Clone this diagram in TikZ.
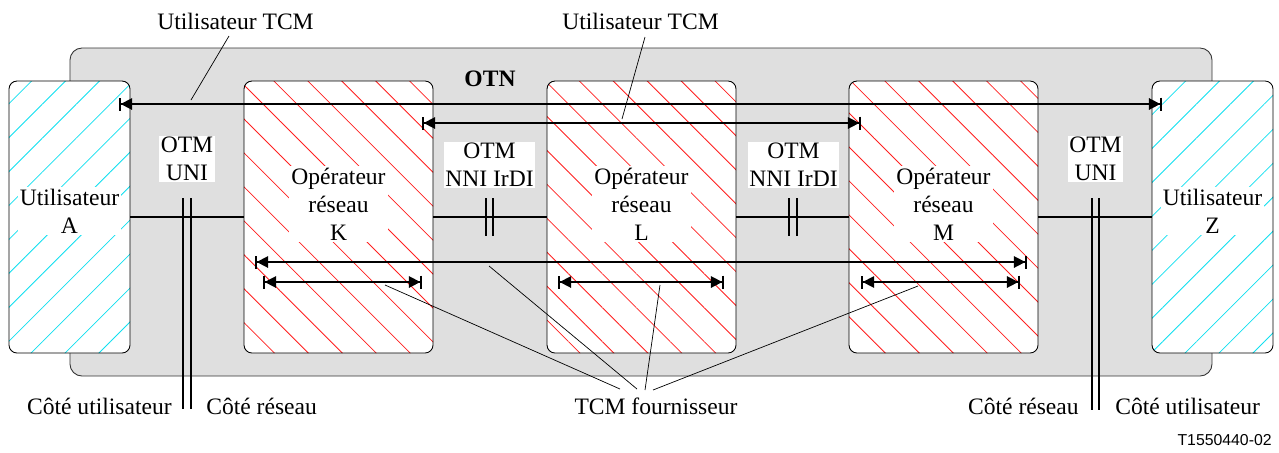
\documentclass[tikz,border=0pt]{standalone}
\usepackage{fontspec}
\setmainfont{Liberation Serif}
\newfontfamily\tagfont{Liberation Sans}
\usepackage{tikz}
\usetikzlibrary{arrows.meta,patterns.meta}
\definecolor{otngray}{HTML}{DFDFDF}
\definecolor{hatchred}{HTML}{FF2020}
\definecolor{hatchcyan}{HTML}{10E0F0}

\begin{document}
\begin{tikzpicture}[
  x=0.2mm, y=-0.2mm,
  font=\fontsize{13.4}{15.9}\selectfont,
  otnbox/.style={draw=black!80, fill=otngray, rounded corners=2.4mm, line width=0.5pt, minimum width=228.4mm, minimum height=65.6mm},
  userbox/.style={draw, line width=0.5pt, rounded corners=1.6mm, minimum width=24.2mm, minimum height=54.4mm, preaction={fill=white}, pattern={Lines[angle=45,distance=4.8mm,line width=0.45pt]}, pattern color=hatchcyan},
  opbox/.style={draw, line width=0.5pt, rounded corners=1.6mm, minimum width=37.8mm, minimum height=54.4mm, preaction={fill=white}, pattern={Lines[angle=-45,distance=4.8mm,line width=0.45pt]}, pattern color=hatchred},
  boxtext/.style={fill=white, inner sep=0.4mm, align=center},
  iftext/.style={fill=white, inner sep=0.3mm, align=center},
  link/.style={line width=0.75pt},
  dbar/.style={line width=1.1pt},
  span/.style={{Bar[width=2.6mm]Triangle[length=2.3mm,width=2.3mm]}-{Triangle[length=2.3mm,width=2.3mm]Bar[width=2.6mm]}, line width=0.95pt},
  ptr/.style={line width=0.4pt}
]
  \useasboundingbox (0,0) rectangle (1279,452);

  % OTN area
  \node[otnbox] (otn) at (641,212) {};
  \node[font=\fontsize{13.4}{15.9}\selectfont\bfseries, anchor=base] (otnLbl) at (490,86) {OTN};

  % users and operators
  \node[userbox] (usrA) at (69.5,217) {};
  \node[opbox] (opK) at (338.5,217) {};
  \node[opbox] (opL) at (641.5,217) {};
  \node[opbox] (opM) at (943.5,217) {};
  \node[userbox] (usrZ) at (1212.5,217) {};

  \node[boxtext] (txtA) at (69.5,211) {Utilisateur\\A};
  \node[boxtext] (txtK) at (338.5,204) {Opérateur\\réseau\\K};
  \node[boxtext] (txtL) at (641.5,204) {Opérateur\\réseau\\L};
  \node[boxtext] (txtM) at (943.5,204) {Opérateur\\réseau\\M};
  \node[boxtext] (txtZ) at (1212.5,211) {Utilisateur\\Z};

  % links
  \draw[link] (usrA) -- (opK);
  \draw[link] (opK) -- (opL);
  \draw[link] (opL) -- (opM);
  \draw[link] (opM) -- (usrZ);

  % interfaces
  \node[iftext] (uniA) at (187,159) {OTM\\UNI};
  \node[iftext] (nniKL) at (489.5,165) {OTM\\NNI IrDI};
  \node[iftext] (nniLM) at (793.5,165) {OTM\\NNI IrDI};
  \node[iftext] (uniZ) at (1095.5,159) {OTM\\UNI};

  \draw[dbar] (183,198) -- (183,409) (191,198) -- (191,409);
  \draw[dbar] (486,198) -- (486,236) (493,198) -- (493,236);
  \draw[dbar] (789,198) -- (789,236) (797,198) -- (797,236);
  \draw[dbar] (1092,198) -- (1092,410) (1099,198) -- (1099,410);

  % TCM spans
  \coordinate (usrS) at (119,104);  \coordinate (usrE) at (1162,104);
  \coordinate (usr2S) at (422,123); \coordinate (usr2E) at (861,123);
  \coordinate (prvS) at (255,262);  \coordinate (prvE) at (1027,262);
  \coordinate (prvKS) at (263,282); \coordinate (prvKE) at (422,282);
  \coordinate (prvLS) at (558,282); \coordinate (prvLE) at (724,282);
  \coordinate (prvMS) at (861,282); \coordinate (prvME) at (1020,282);
  \draw[span] (usrS) -- (usrE);
  \draw[span] (usr2S) -- (usr2E);
  \draw[span] (prvS) -- (prvE);
  \draw[span] (prvKS) -- (prvKE);
  \draw[span] (prvLS) -- (prvLE);
  \draw[span] (prvMS) -- (prvME);

  % labels and pointers
  \node[anchor=base] (tcmUsr) at (235.5,29) {Utilisateur TCM};
  \node[anchor=base] (tcmUsr2) at (640.5,29) {Utilisateur TCM};
  \node[anchor=base] (tcmPrv) at (656,414) {TCM fournisseur};
  \coordinate (pu1) at (229,36);  \coordinate (qu1) at (191,100);
  \coordinate (pu2) at (645,37);  \coordinate (qu2) at (622,119);
  \draw[ptr] (pu1) -- (qu1);
  \draw[ptr] (pu2) -- (qu2);
  \coordinate (pp1) at (620,389); \coordinate (qp1) at (385,285);
  \coordinate (pp2) at (637,389); \coordinate (qp2) at (489,266);
  \coordinate (pp3) at (645,390); \coordinate (qp3) at (660,285);
  \coordinate (pp4) at (653,390); \coordinate (qp4) at (918,286);
  \draw[ptr] (pp1) -- (qp1);
  \draw[ptr] (pp2) -- (qp2);
  \draw[ptr] (pp3) -- (qp3);
  \draw[ptr] (pp4) -- (qp4);

  \node[anchor=base east, inner sep=0pt] (sideUsrA) at (172,414) {Côté utilisateur};
  \node[anchor=base west, inner sep=0pt] (sideNetA) at (206,414) {Côté réseau};
  \node[anchor=base east, inner sep=0pt] (sideNetZ) at (1079,414) {Côté réseau};
  \node[anchor=base west, inner sep=0pt] (sideUsrZ) at (1115,414) {Côté utilisateur};
  \node[anchor=base east, inner sep=0pt, font=\tagfont\fontsize{9}{11}\selectfont] (figTag) at (1272,445) {T1550440-02};
\end{tikzpicture}
\end{document}
